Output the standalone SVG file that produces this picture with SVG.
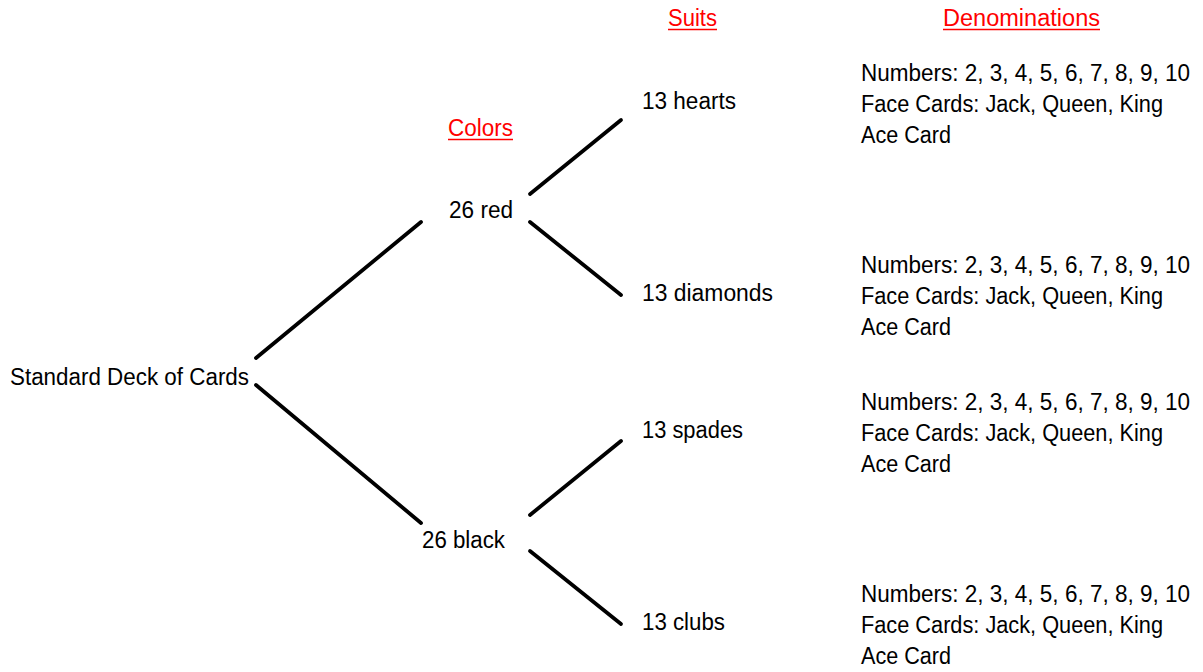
<svg xmlns="http://www.w3.org/2000/svg" width="1203" height="672" viewBox="0 0 1203 672">
<style>
text{font-family:"Liberation Sans",Arial,sans-serif;font-size:23px;fill:#000}
.h{fill:#FF0000}
.ul{stroke:#FF0000;stroke-width:1.6}
.c{stroke:#000;stroke-width:3.8;stroke-linecap:round;fill:none}
</style>
<rect width="1203" height="672" fill="#fff"/>
<g id="headers">
<text class="h" x="448" y="136" textLength="65" lengthAdjust="spacingAndGlyphs">Colors</text>
<line class="ul" x1="448" y1="139.5" x2="513" y2="139.5"/>
<text class="h" x="668" y="26" textLength="49" lengthAdjust="spacingAndGlyphs">Suits</text>
<line class="ul" x1="668" y1="29.5" x2="717" y2="29.5"/>
<text class="h" x="943" y="26" textLength="157" lengthAdjust="spacingAndGlyphs">Denominations</text>
<line class="ul" x1="943" y1="29.5" x2="1100" y2="29.5"/>
</g>
<g id="connectors">
<line class="c" x1="256" y1="358" x2="421" y2="222"/>
<line class="c" x1="256" y1="385" x2="421" y2="523"/>
<line class="c" x1="530" y1="194" x2="621" y2="120"/>
<line class="c" x1="530" y1="222" x2="621" y2="295"/>
<line class="c" x1="530" y1="515" x2="621" y2="441"/>
<line class="c" x1="530" y1="551" x2="621" y2="624"/>
</g>
<g id="deck"><text x="10" y="385" textLength="239" lengthAdjust="spacingAndGlyphs">Standard Deck of Cards</text></g>
<g id="red"><text x="449" y="218" textLength="64" lengthAdjust="spacingAndGlyphs">26 red</text></g>
<g id="black"><text x="422" y="548" textLength="83" lengthAdjust="spacingAndGlyphs">26 black</text></g>
<g id="hearts"><text x="642" y="109" textLength="94" lengthAdjust="spacingAndGlyphs">13 hearts</text></g>
<g id="diamonds"><text x="642" y="301" textLength="131" lengthAdjust="spacingAndGlyphs">13 diamonds</text></g>
<g id="spades"><text x="642" y="438" textLength="101" lengthAdjust="spacingAndGlyphs">13 spades</text></g>
<g id="clubs"><text x="642" y="630" textLength="83" lengthAdjust="spacingAndGlyphs">13 clubs</text></g>
<g id="denom-hearts">
<text x="861" y="81" textLength="329" lengthAdjust="spacingAndGlyphs">Numbers: 2, 3, 4, 5, 6, 7, 8, 9, 10</text>
<text x="861" y="112" textLength="302" lengthAdjust="spacingAndGlyphs">Face Cards: Jack, Queen, King</text>
<text x="861" y="143" textLength="90" lengthAdjust="spacingAndGlyphs">Ace Card</text>
</g>
<g id="denom-diamonds">
<text x="861" y="273" textLength="329" lengthAdjust="spacingAndGlyphs">Numbers: 2, 3, 4, 5, 6, 7, 8, 9, 10</text>
<text x="861" y="304" textLength="302" lengthAdjust="spacingAndGlyphs">Face Cards: Jack, Queen, King</text>
<text x="861" y="335" textLength="90" lengthAdjust="spacingAndGlyphs">Ace Card</text>
</g>
<g id="denom-spades">
<text x="861" y="410" textLength="329" lengthAdjust="spacingAndGlyphs">Numbers: 2, 3, 4, 5, 6, 7, 8, 9, 10</text>
<text x="861" y="441" textLength="302" lengthAdjust="spacingAndGlyphs">Face Cards: Jack, Queen, King</text>
<text x="861" y="472" textLength="90" lengthAdjust="spacingAndGlyphs">Ace Card</text>
</g>
<g id="denom-clubs">
<text x="861" y="602" textLength="329" lengthAdjust="spacingAndGlyphs">Numbers: 2, 3, 4, 5, 6, 7, 8, 9, 10</text>
<text x="861" y="633" textLength="302" lengthAdjust="spacingAndGlyphs">Face Cards: Jack, Queen, King</text>
<text x="861" y="664" textLength="90" lengthAdjust="spacingAndGlyphs">Ace Card</text>
</g>
</svg>
